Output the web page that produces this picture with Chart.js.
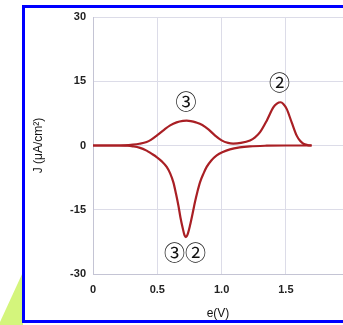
<!DOCTYPE html>
<html>
<head>
<meta charset="utf-8">
<script src="https://cdn.jsdelivr.net/npm/chart.js@4"></script>
<style>
  html, body { margin: 0; padding: 0; background: #fff; overflow: hidden; }
  #wrap { position: relative; width: 343px; height: 325px; }
  #leaf { position: absolute; left: 0; top: 0; width: 343px; height: 325px;
          background: #d4f57c; clip-path: polygon(0px 322px, 23px 272px, 23px 325px, 0px 325px); }
  #frame { position: absolute; left: 22px; top: 5px; width: 400px; height: 312px;
           border: 3px solid #0000ff; box-sizing: content-box; }
  canvas { position: absolute; left: 0; top: 0; }
</style>
</head>
<body>
<div id="wrap">
  <div id="leaf"></div>
  <div id="frame"></div>
  <canvas id="cv" width="343" height="325"></canvas>
</div>
<script>
// Anodic (forward) sweep: potential e (V) and current density J (uA/cm2)
const forwardE = [0, 0.15, 0.25, 0.31, 0.36, 0.417, 0.45, 0.5, 0.55, 0.6, 0.65, 0.7, 0.728, 0.76, 0.8, 0.85, 0.9, 0.95, 1.0, 1.05, 1.09, 1.15, 1.221, 1.26, 1.299, 1.351, 1.402, 1.43, 1.459, 1.48, 1.506, 1.545, 1.584, 1.61, 1.636, 1.67, 1.7];
const forwardJ = [0, 0, 0.05, 0.2, 0.4, 0.8, 1.3, 2.4, 3.6, 4.7, 5.4, 5.75, 5.8, 5.7, 5.4, 4.8, 3.7, 2.3, 1.2, 0.6, 0.45, 0.6, 1.17, 1.9, 3.1, 5.8, 8.9, 9.8, 10.1, 9.7, 8.55, 5.4, 2.3, 1.1, 0.4, 0.1, 0];

// Cathodic (return) sweep, listed in ascending potential
const reverseE = [0, 0.2, 0.27, 0.31, 0.36, 0.417, 0.455, 0.495, 0.535, 0.573, 0.6, 0.625, 0.645, 0.664, 0.68, 0.697, 0.712, 0.723, 0.735, 0.754, 0.775, 0.793, 0.812, 0.832, 0.86, 0.884, 0.92, 0.962, 1.01, 1.065, 1.14, 1.22, 1.35, 1.5, 1.7];
const reverseJ = [0, 0, -0.05, -0.2, -0.5, -1.2, -1.9, -2.7, -3.7, -5.0, -6.5, -8.6, -11.2, -14, -16.8, -19.2, -21.0, -21.4, -20.8, -18.7, -15.8, -13.2, -10.8, -8.6, -6.5, -5.0, -3.5, -2.3, -1.5, -0.9, -0.45, -0.2, -0.05, 0, 0];

// Peak labels (circled sweep numbers) at data coordinates
const peakLabels = ['③', '②', '③②'];
const peakLabelE = [0.723, 1.45, 0.715];
const peakLabelJ = [10.3, 14.8, -24.9];

const yTicks = [-30, -15, 0, 15, 30];

const toPoints = (xs, ys) => xs.map((x, i) => ({ x: x, y: ys[i] }));

const lineColor = '#a91f24';
const gridColor = '#dcdce8';
const labelFont = 'Liberation Sans, Arial, sans-serif';

const peakLabelPlugin = {
  id: 'peakLabels',
  afterDatasetsDraw(chart) {
    const { ctx, scales } = chart;
    ctx.save();
    ctx.font = '21px "Noto Sans CJK JP", "DejaVu Sans", sans-serif';
    ctx.fillStyle = '#111';
    ctx.textAlign = 'center';
    ctx.textBaseline = 'middle';
    peakLabels.forEach((t, i) => {
      ctx.fillText(t, scales.x.getPixelForValue(peakLabelE[i]), scales.y.getPixelForValue(peakLabelJ[i]));
    });
    ctx.restore();
  }
};

new Chart(document.getElementById('cv'), {
  type: 'scatter',
  data: {
    datasets: [
      { data: toPoints(forwardE, forwardJ), showLine: true, borderColor: lineColor, borderWidth: 2.2,
        pointRadius: 0, cubicInterpolationMode: 'monotone' },
      { data: toPoints(reverseE, reverseJ), showLine: true, borderColor: lineColor, borderWidth: 2.2,
        pointRadius: 0, cubicInterpolationMode: 'monotone' }
    ]
  },
  options: {
    responsive: false,
    animation: false,
    events: [],
    layout: { padding: { left: 27, top: 17, right: 0, bottom: 0 } },
    plugins: { legend: { display: false }, tooltip: { enabled: false } },
    scales: {
      x: {
        type: 'linear', min: 0, max: 1.944,
        grid: { color: gridColor, drawTicks: false },
        border: { color: '#c4c4d4' },
        ticks: { stepSize: 0.5, includeBounds: false, padding: 9, color: '#222',
                 font: { family: labelFont, size: 11, weight: 'bold' } },
        title: { display: true, text: 'e(V)', color: '#111', padding: { top: 4, bottom: 4 },
                 font: { family: labelFont, size: 12 } },
        afterFit(s) { s.height = 51; }
      },
      y: {
        type: 'linear', min: -30, max: 30,
        afterBuildTicks(s) { s.ticks = yTicks.map(v => ({ value: v })); },
        grid: { color: gridColor, drawTicks: false },
        border: { color: '#c4c4d4' },
        ticks: { padding: 7, color: '#222',
                 font: { family: labelFont, size: 11, weight: 'bold' } },
        title: { display: true, text: 'J (μA/cm²)', color: '#111', padding: { top: 4, bottom: 4 },
                 font: { family: labelFont, size: 12 } },
        afterFit(s) { s.width = 66; }
      }
    }
  },
  plugins: [peakLabelPlugin]
});
</script>
</body>
</html>
